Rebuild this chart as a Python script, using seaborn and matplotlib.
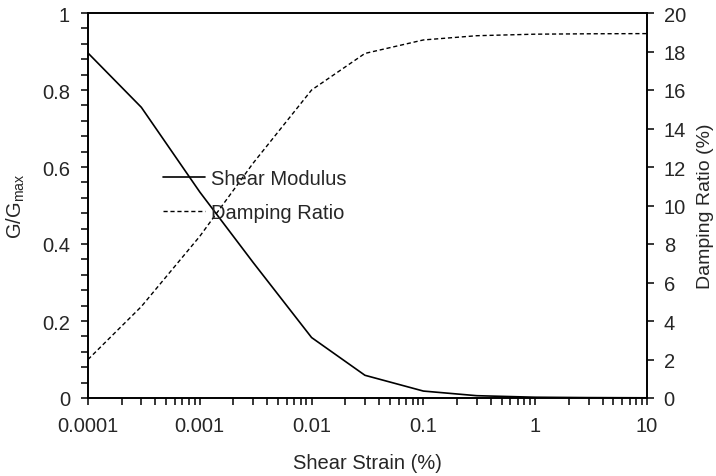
import numpy as np
import pandas as pd
import matplotlib
matplotlib.use("Agg")
import matplotlib.pyplot as plt
from matplotlib.ticker import LogLocator, NullFormatter, MultipleLocator
import seaborn as sns

strain = [0.0001, 0.0003, 0.001, 0.003, 0.01, 0.03, 0.1, 0.3, 1, 3, 10]
g_ratio = [0.896, 0.755, 0.535, 0.352, 0.157, 0.059, 0.018, 0.006, 0.002, 0.001, 0.0005]
damping = [2.0, 4.75, 8.4, 12.2, 16.0, 17.9, 18.6, 18.82, 18.9, 18.92, 18.93]
x_ticks = [0.0001, 0.001, 0.01, 0.1, 1, 10]
x_tick_labels = ["0.0001", "0.001", "0.01", "0.1", "1", "10"]

sns.set_style("ticks")
plt.rcParams["font.family"] = ["Liberation Sans", "DejaVu Sans"]
plt.rcParams["mathtext.fontset"] = "custom"
plt.rcParams["mathtext.rm"] = "Liberation Sans"
plt.rcParams["mathtext.it"] = "Liberation Sans"
plt.rcParams["mathtext.default"] = "regular"

df = pd.DataFrame({"strain": strain, "G": g_ratio, "D": damping})

fs = 14.5
fig = plt.figure(figsize=(7.16, 4.77), dpi=100)
ax = fig.add_axes([88 / 716, 1 - 399 / 477, (647 - 88) / 716, (399 - 14) / 477])
sns.lineplot(data=df, x="strain", y="G", ax=ax, color="black", lw=1.2,
             label="Shear Modulus", legend=False)
ax.set_xscale("log")
ax.set_xlim(1e-4, 10)
ax.set_ylim(0, 1)
ax2 = ax.twinx()
sns.lineplot(data=df, x="strain", y="D", ax=ax2, color="black", lw=1.0,
             linestyle=(0, (3, 2)), label="Damping Ratio", legend=False)
ax2.set_ylim(0, 20)
ax2.set_xlim(1e-4, 10)

ax.set_xticks(x_ticks)
ax.set_xticklabels(x_tick_labels, fontsize=fs)
ax.xaxis.set_minor_locator(LogLocator(base=10, subs=np.arange(2, 10), numticks=20))
ax.xaxis.set_minor_formatter(NullFormatter())

ax.set_yticks(np.arange(0, 1.01, 0.2))
ax.yaxis.set_minor_locator(MultipleLocator(0.04))
ax.set_yticklabels(["0", "0.2", "0.4", "0.6", "0.8", "1"], fontsize=fs)
ax2.set_yticks(np.arange(0, 21, 2))
ax2.set_yticklabels([str(int(v)) for v in np.arange(0, 21, 2)], fontsize=fs)

for a in (ax, ax2):
    for sp in a.spines.values():
        sp.set_linewidth(1.2)
        sp.set_color("black")
ax.tick_params(axis="both", which="both", direction="out", length=5, width=1.1,
               color="black", top=False, right=False)
ax.tick_params(axis="x", pad=8)
ax.tick_params(axis="y", pad=8)
ax2.tick_params(axis="y", which="both", direction="out", length=5, width=1.1,
                color="black", pad=7)

ax.set_xlabel("Shear Strain (%)", fontsize=fs, labelpad=13)
ax.set_ylabel("G/G$_{max}$", fontsize=fs, labelpad=11)
ax2.set_ylabel("Damping Ratio (%)", fontsize=14, labelpad=8)

h1, l1 = ax.get_legend_handles_labels()
h2, l2 = ax2.get_legend_handles_labels()
ax2.legend(h1 + h2, l1 + l2, loc="center left",
           bbox_to_anchor=(163 / 716, 1 - 196.5 / 477), bbox_transform=fig.transFigure,
           frameon=False, fontsize=fs, handlelength=2.1, handletextpad=0.28,
           borderpad=0, borderaxespad=0, labelspacing=0.7)

fig.savefig("out.png", dpi=100)
